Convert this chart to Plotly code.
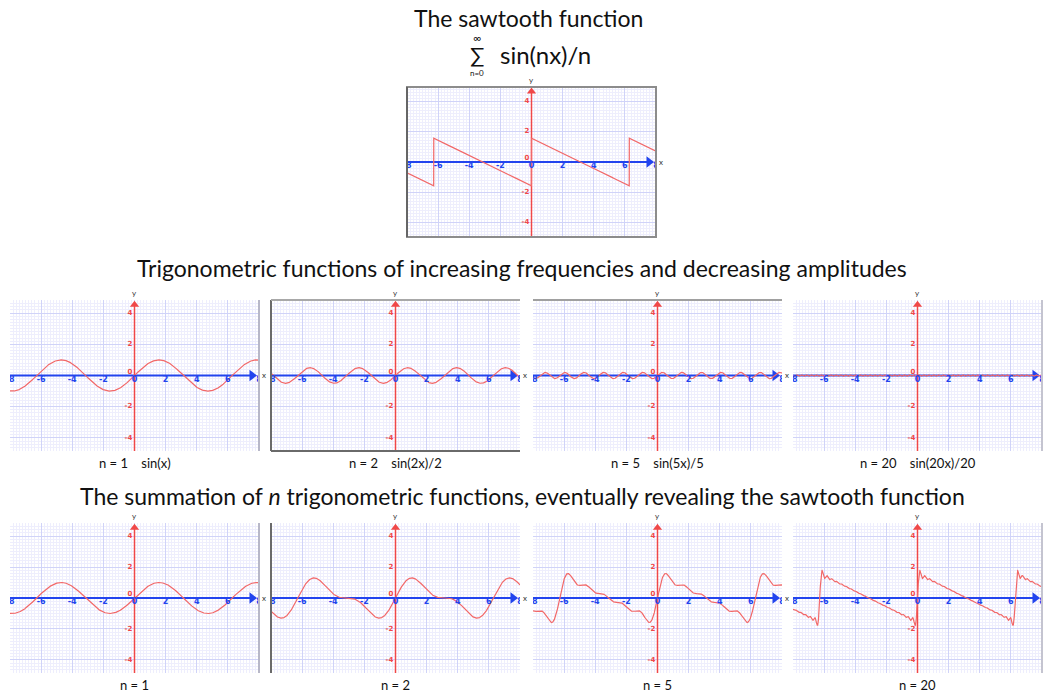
import numpy as np
import plotly.graph_objects as go

W, H = 1044, 693

# Harmonic counts and captions for the two rows of small plots
middle_n = [1, 2, 5, 20]
middle_terms = ["sin(x)", "sin(2x)/2", "sin(5x)/5", "sin(20x)/20"]
bottom_n = [1, 2, 5, 20]

# Tick labels drawn along the axes of every plot
x_ticks = [-8, -6, -4, -2, 0, 2, 4, 6, 8]
y_ticks = [-4, -2, 2, 4]

X_MIN, X_MAX = -8, 8
xs = np.linspace(X_MIN, X_MAX, 3201)

FONT = "Lato, 'Open Sans', sans-serif"
CURVE = "#f26868"
AX_RED = "#f04848"
AX_BLUE = "#2244ee"
GRID_MAJOR = "#d0d3f8"
GRID_MINOR = "#eeeefd"


def sawtooth(x):
    r = np.mod(x, 2 * np.pi)
    return (np.pi - r) / 2


def partial_sum(x, n):
    return sum(np.sin(k * x) / k for k in range(1, n + 1))


# panel boxes in pixels, y half-range, curve, border edges, whether "x" name fits
lefts = [10, 271, 533, 793]
panels = [dict(l=407, t=87, r=656, b=237, yr=4.95, y=sawtooth(xs),
               edges={"all": "#8c8c8c", "l": "#666666"}, xname=True)]
mid_edges = [{"r": "#b8b8c8"}, {"l": "#6a6a6a", "b": "#6a6a6a", "t": "#a8a8a8"},
             {"t": "#a0a0a0"}, {"r": "#c4c4d0"}]
bot_edges = [{"r": "#b8b8c8"}, {"l": "#6a6a6a"}, {}, {"r": "#c4c4d0"}]
for i, n in enumerate(middle_n):
    panels.append(dict(l=lefts[i], t=300, r=lefts[i] + 249, b=451, yr=4.84,
                       y=np.sin(n * xs) / n, edges=mid_edges[i], xname=i < 3))
for i, n in enumerate(bottom_n):
    panels.append(dict(l=lefts[i], t=523, r=lefts[i] + 249, b=673, yr=4.84,
                       y=partial_sum(xs, n), edges=bot_edges[i], xname=i < 3))

fig = go.Figure()
layout = dict(width=W, height=H, margin=dict(l=0, r=0, t=0, b=0),
              paper_bgcolor="white", plot_bgcolor="white", showlegend=False,
              font=dict(family=FONT, color="#111"))
annotations = []
shapes = []

for i, p in enumerate(panels):
    k = "" if i == 0 else str(i + 1)
    xa, ya = "x" + k, "y" + k
    layout["xaxis" + k] = dict(
        domain=[p["l"] / W, p["r"] / W], range=[X_MIN, X_MAX], anchor=ya,
        showticklabels=False, ticks="", zeroline=False, showline=False,
        showgrid=True, gridcolor=GRID_MAJOR, gridwidth=1, tick0=0, dtick=2,
        minor=dict(dtick=0.2, showgrid=True, gridcolor=GRID_MINOR, gridwidth=1),
        fixedrange=True)
    layout["yaxis" + k] = dict(
        domain=[1 - p["b"] / H, 1 - p["t"] / H], range=[-p["yr"], p["yr"]], anchor=xa,
        showticklabels=False, ticks="", zeroline=False, showline=False,
        showgrid=True, gridcolor=GRID_MAJOR, gridwidth=1, tick0=0, dtick=2,
        minor=dict(dtick=0.2, showgrid=True, gridcolor=GRID_MINOR, gridwidth=1),
        fixedrange=True)

    # axes through the origin, with arrowheads
    fig.add_trace(go.Scatter(x=[X_MIN, 7.7], y=[0, 0], mode="lines", xaxis=xa, yaxis=ya,
                             line=dict(color=AX_BLUE, width=2.2), hoverinfo="skip"))
    fig.add_trace(go.Scatter(x=[0, 0], y=[-p["yr"], p["yr"] - 0.3], mode="lines",
                             xaxis=xa, yaxis=ya,
                             line=dict(color=AX_RED, width=1.5), hoverinfo="skip"))
    fig.add_trace(go.Scatter(x=[7.55], y=[0], mode="markers", xaxis=xa, yaxis=ya,
                             cliponaxis=False,
                             marker=dict(symbol="triangle-right", size=10, color=AX_BLUE),
                             hoverinfo="skip"))
    fig.add_trace(go.Scatter(x=[0], y=[p["yr"] - 0.3], mode="markers", xaxis=xa, yaxis=ya,
                             cliponaxis=False,
                             marker=dict(symbol="triangle-up", size=8, color=AX_RED),
                             hoverinfo="skip"))

    # the function itself
    fig.add_trace(go.Scatter(x=xs, y=p["y"], mode="lines", xaxis=xa, yaxis=ya,
                             line=dict(color=CURVE, width=1.2), hoverinfo="skip"))

    # tick labels along the axes
    fig.add_trace(go.Scatter(x=x_ticks, y=[0] * len(x_ticks), mode="text",
                             xaxis=xa, yaxis=ya, cliponaxis=True,
                             text=["<b>%d</b>" % v for v in x_ticks],
                             textposition="bottom center",
                             textfont=dict(size=8, color=AX_BLUE, family="DejaVu Sans"),
                             hoverinfo="skip"))
    fig.add_trace(go.Scatter(x=[0] * (len(y_ticks) + 1), y=y_ticks + [0], mode="text",
                             xaxis=xa, yaxis=ya, cliponaxis=True,
                             text=["<b>%d</b> " % v for v in y_ticks] + ["<b>0</b> "],
                             textposition=["middle left"] * len(y_ticks) + ["top left"],
                             textfont=dict(size=7, color=AX_RED, family="DejaVu Sans"),
                             hoverinfo="skip"))

    # axis names
    if p["xname"]:
        annotations.append(dict(xref="paper", yref="paper", x=(p["r"] + 5) / W,
                                y=1 - (p["t"] + (p["b"] - p["t"]) / 2) / H,
                                xanchor="center", yanchor="middle",
                                text="x", showarrow=False, font=dict(size=8, color="#333")))
    x0px = p["l"] + (p["r"] - p["l"]) / 2
    annotations.append(dict(xref="paper", yref="paper", x=x0px / W, y=1 - (p["t"] - 7) / H,
                            xanchor="center", yanchor="middle",
                            text="y", showarrow=False, font=dict(size=8, color="#333")))

    # frame edges
    dx, dy = xa + " domain", ya + " domain"
    edge_specs = {"l": (0, 0, 0, 1), "r": (1, 0, 1, 1), "t": (0, 1, 1, 1), "b": (0, 0, 1, 0)}
    edges = dict(p["edges"])
    if "all" in edges:
        shapes.append(dict(type="rect", xref=dx, yref=dy, x0=0, y0=0, x1=1, y1=1,
                           line=dict(color=edges.pop("all"), width=2)))
    for e, col in edges.items():
        a, b, c, d = edge_specs[e]
        shapes.append(dict(type="line", xref=dx, yref=dy, x0=a, y0=b, x1=c, y1=d,
                           line=dict(color=col, width=2)))


# headings
def text_at(px, py, s, size):
    annotations.append(dict(xref="paper", yref="paper", x=px / W, y=1 - py / H,
                            xanchor="center", yanchor="middle",
                            text=s, showarrow=False,
                            font=dict(size=size, family=FONT, color="#111")))


text_at(528, 18, "The sawtooth function", 23)
text_at(477, 54, "\u2211", 21)
text_at(477, 37, "\u221e", 11)
text_at(477, 73, "n=0", 8)
text_at(545, 55, "sin(nx)/n", 24)
text_at(522, 268, "Trigonometric functions of increasing frequencies and decreasing amplitudes", 23)
text_at(522, 496, "The summation of <i>n</i> trigonometric functions, eventually revealing the sawtooth function", 23)

gap = "\u00a0" * 4
for i, n in enumerate(middle_n):
    text_at(lefts[i] + 124.5, 463, "n = %d%s%s" % (n, gap, middle_terms[i]), 13)
for i, n in enumerate(bottom_n):
    text_at(lefts[i] + 124.5, 685, "n = %d" % n, 13)

layout["annotations"] = annotations
layout["shapes"] = shapes
fig.update_layout(**layout)
fig.write_html("out.html")
